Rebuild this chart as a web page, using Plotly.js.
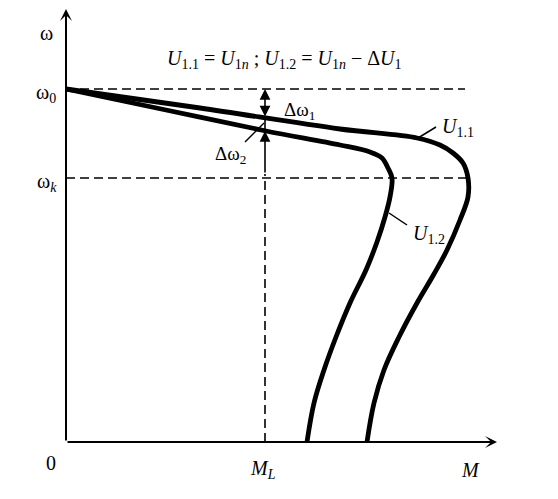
<!DOCTYPE html>
<html>
<head>
<meta charset="utf-8">
<script src="https://cdn.plot.ly/plotly-3.0.1.min.js"></script>
<style>html,body{margin:0;padding:0;background:#fff;}#chart{width:558px;height:499px;}</style>
</head>
<body>
<div id="chart"></div>
<script>
// Torque M (arbitrary units) and speed ω (arbitrary units)
const M_U11 = [0, 134, 274, 351, 374, 387, 397, 402, 402, 394, 381, 368, 351, 333, 318, 308, 301];
const W_U11 = [353, 334, 313, 304, 297, 289, 279, 264, 245, 222, 192, 168, 139, 105, 72, 39, 0];
const M_U12 = [0, 100, 200, 274, 304, 316, 322, 326, 324, 319, 311, 300, 284, 270, 258, 248, 241];
const W_U12 = [353, 332, 311, 297, 290, 284, 274, 264, 245, 225, 200, 172, 139, 105, 72, 39, 0];

// Characteristic levels
const omega0 = 353;      // ideal no-load speed
const omegaK = 264;      // critical speed
const ML = 199;          // load torque
const omegaL1 = 324;     // speed on U1.1 at ML
const omegaL2 = 311;     // speed on U1.2 at ML
const M_END = 431;       // end of M axis arrow
const W_END = 433;       // end of ω axis arrow

const FONT = 'Liberation Serif, Times New Roman, serif';

const traces = [
  {x: M_U11, y: W_U11, mode: 'lines', line: {color: '#000', width: 4.8, shape: 'spline', smoothing: 1}, hoverinfo: 'skip'},
  {x: M_U12, y: W_U12, mode: 'lines', line: {color: '#000', width: 4.8, shape: 'spline', smoothing: 1}, hoverinfo: 'skip'}
];

const dash = {color: '#000', width: 1.6, dash: '9px,5px'};
const shapes = [
  {type: 'line', xref: 'x', yref: 'y', x0: 0, x1: 399, y0: omega0, y1: omega0, line: dash},
  {type: 'line', xref: 'x', yref: 'y', x0: 0, x1: 402, y0: omegaK, y1: omegaK, line: dash},
  {type: 'line', xref: 'x', yref: 'y', x0: ML, x1: ML, y0: 0, y1: 268, line: dash},
  {type: 'line', xref: 'x', yref: 'y', x0: ML, x1: ML, y0: omegaL1, y1: omegaL2, line: {color: '#000', width: 1.6}},
  // leader lines
  {type: 'line', xref: 'x', yref: 'y', x0: 352, x1: 370, y0: 304, y1: 315, line: {color: '#000', width: 1.5}},
  {type: 'line', xref: 'x', yref: 'y', x0: 323, x1: 341, y0: 229, y1: 217, line: {color: '#000', width: 1.5}},
  {type: 'line', xref: 'x', yref: 'y', x0: 179, x1: 198, y0: 300, y1: 319, line: {color: '#000', width: 1.5}}
];

function txt(x, y, text, xa, size) {
  return {x: x, y: y, xref: 'x', yref: 'y', text: text, showarrow: false,
          xanchor: xa || 'center', yanchor: 'middle',
          font: {family: FONT, size: size || 19, color: '#000'}};
}
function arrow(x, y, ax, ay, opts) {
  return Object.assign({x: x, y: y, ax: ax, ay: ay, xref: 'x', yref: 'y', axref: 'x', ayref: 'y',
          text: '', showarrow: true, arrowcolor: '#000', standoff: 0, startstandoff: 0}, opts);
}

const annotations = [
  // axes
  arrow(M_END, 0, 0, 0, {arrowhead: 3, arrowwidth: 2, arrowsize: 1}),
  arrow(0, W_END, 0, 0, {arrowhead: 3, arrowwidth: 2, arrowsize: 1}),
  // Δω arrows
  arrow(ML, omega0, ML, omegaL1, {arrowhead: 2, arrowwidth: 1.6, arrowsize: 1.35, arrowside: 'end+start', startarrowhead: 2, startarrowsize: 1.35}),
  arrow(ML, omegaL2, ML, 268, {arrowhead: 2, arrowwidth: 1.6, arrowsize: 1.35}),
  // labels
  txt(-20, 409, 'ω', 'center', 20),
  txt(-8, 349, 'ω<sub>0</sub>', 'right', 20),
  txt(-7, 260, 'ω<sub><i>k</i></sub>', 'right', 20),
  txt(-15, -21, '0', 'center', 20),
  txt(197, -27, '<i>M</i><sub><i>L</i></sub>', 'center', 20),
  txt(404, -28, '<i>M</i>', 'center', 20),
  txt(216, 331, 'Δω<sub>1</sub>', 'left', 19),
  txt(182, 287, 'Δω<sub>2</sub>', 'right', 19),
  txt(374, 315, '<i>U</i><sub>1.1</sub>', 'left', 20),
  txt(345, 208, '<i>U</i><sub>1.2</sub>', 'left', 20),
  txt(218, 383, '<i>U</i><sub>1.1</sub> = <i>U</i><sub>1<i>n</i></sub> ; <i>U</i><sub>1.2</sub> = <i>U</i><sub>1<i>n</i></sub> − Δ<i>U</i><sub>1</sub>', 'center', 20)
];

const layout = {
  width: 558, height: 499,
  margin: {l: 0, r: 0, t: 0, b: 0},
  paper_bgcolor: '#fff', plot_bgcolor: '#fff',
  showlegend: false,
  xaxis: {range: [-66, 492], visible: false, fixedrange: true},
  yaxis: {range: [-57, 442], visible: false, fixedrange: true},
  shapes: shapes,
  annotations: annotations
};

Plotly.newPlot('chart', traces, layout, {staticPlot: true, displayModeBar: false});
</script>
</body>
</html>
